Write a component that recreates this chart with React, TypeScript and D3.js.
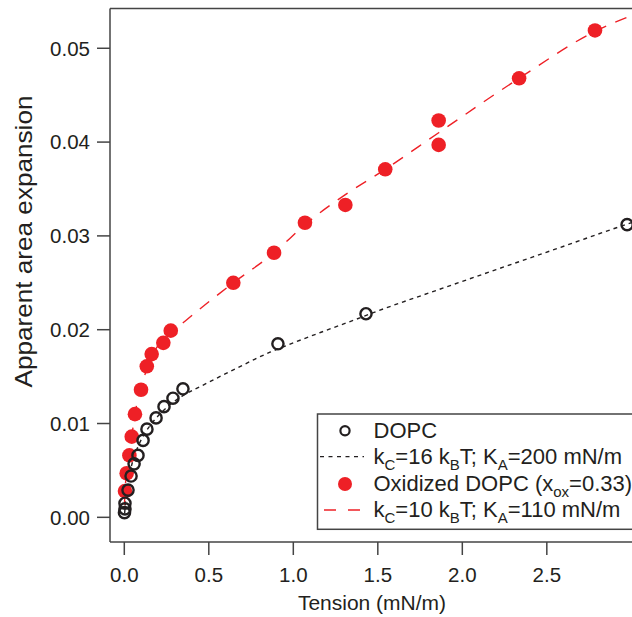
import React from "react";
import * as d3 from "d3";

// DOPC data (tension mN/m, apparent area expansion)
const dopcTension = [0.001, 0.004, 0.004, 0.022, 0.040, 0.058, 0.081, 0.111, 0.134, 0.188, 0.235, 0.288, 0.347, 0.909, 1.430, 2.975];
const dopcAlpha = [0.0005, 0.0009, 0.0015, 0.0029, 0.0044, 0.0057, 0.0066, 0.0082, 0.0094, 0.0106, 0.0118, 0.0127, 0.0137, 0.0185, 0.0217, 0.0312];

// Oxidized DOPC data
const oxTension = [0.004, 0.014, 0.030, 0.044, 0.063, 0.099, 0.133, 0.162, 0.231, 0.275, 0.645, 0.886, 1.069, 1.308, 1.544, 1.860, 1.860, 2.336, 2.785];
const oxAlpha = [0.0028, 0.0047, 0.0066, 0.0086, 0.0110, 0.0136, 0.0161, 0.0174, 0.0186, 0.0199, 0.0250, 0.0282, 0.0314, 0.0333, 0.0371, 0.0397, 0.0423, 0.0468, 0.0519];

// Fit curves
const fitDopcT = [0.002, 0.006, 0.015, 0.030, 0.050, 0.080, 0.120, 0.180, 0.250, 0.340, 0.467, 0.665, 0.862, 1.000, 1.160, 1.355, 1.500, 1.800, 2.200, 2.600, 2.950, 3.050];
const fitDopcA = [0.0004, 0.0014, 0.0030, 0.0045, 0.0060, 0.0075, 0.0089, 0.0104, 0.0117, 0.0129, 0.0141, 0.0159, 0.0176, 0.0186, 0.0197, 0.0210, 0.0220, 0.0239, 0.0264, 0.0289, 0.0311, 0.0317];

const fitOxT = [0.001, 0.004, 0.014, 0.028, 0.044, 0.063, 0.099, 0.164, 0.275, 0.359, 0.645, 0.886, 1.069, 1.308, 1.544, 1.860, 2.336, 2.785, 3.004, 3.05];
const fitOxA = [0.0013, 0.0028, 0.0046, 0.0065, 0.0086, 0.0110, 0.0138, 0.0172, 0.0196, 0.0209, 0.0250, 0.0282, 0.0312, 0.0344, 0.0371, 0.0410, 0.0468, 0.0518, 0.0535, 0.0538];

const xTicks = [0, 0.5, 1.0, 1.5, 2.0, 2.5];
const yTicks = [0, 0.01, 0.02, 0.03, 0.04, 0.05];

const RED = "#ee2026";
const INK = "#231f20";
const AXIS = "#444";
const FONT = "'Liberation Sans', Arial, Helvetica, sans-serif";

const W = 632;
const H = 617;
const left = 110;
const right = 632;
const top = 8.5;
const bottom = 542;

// A legend label: parts alternate normal / subscript
function RichText({ x, y, parts, fs, sfs }: { x: number; y: number; parts: [string, boolean][]; fs: number; sfs: number }) {
  let shifted = false;
  return (
    <text x={x} y={y} fontSize={fs} fill={INK}>
      {parts.map(([s, isSub], i) => {
        let dy = 0;
        if (isSub && !shifted) {
          dy = 6;
          shifted = true;
        } else if (!isSub && shifted) {
          dy = -6;
          shifted = false;
        }
        return (
          <tspan key={i} dy={dy} fontSize={isSub ? sfs : fs}>
            {s}
          </tspan>
        );
      })}
    </text>
  );
}

export default function App() {
  const x = d3.scaleLinear().domain([-0.0846, 3.004]).range([left, right]);
  const y = d3.scaleLinear().domain([-0.00263, 0.05424]).range([bottom, top]);

  const line = d3
    .line<[number, number]>()
    .x((d) => x(d[0]))
    .y((d) => y(d[1]))
    .curve(d3.curveMonotoneX);

  const dopcFit = line(fitDopcT.map((t, i) => [t, fitDopcA[i]]));
  const oxFit = line(fitOxT.map((t, i) => [t, fitOxA[i]]));

  const fx = d3.format(".1f");
  const fy = d3.format(".2f");

  const legX = 317.5;
  const legY = 414;
  const rows = [430.7, 456.7, 484, 510];
  const textX = 373.5;
  const symX = 345;
  const fs = 22;
  const sfs = 15;

  return (
    <svg
      width={W}
      height={H}
      style={{ position: "absolute", left: 0, top: 0, background: "#fff" }}
      fontFamily={FONT}
    >
      <defs>
        <clipPath id="plotclip">
          <rect x={left} y={top} width={right - left + 20} height={bottom - top} />
        </clipPath>
      </defs>

      {/* frame */}
      <line x1={left} x2={W + 2} y1={top} y2={top} stroke={AXIS} strokeWidth={1.5} />
      <line x1={left} x2={W + 2} y1={bottom} y2={bottom} stroke={AXIS} strokeWidth={1.5} />
      <line x1={left} x2={left} y1={top} y2={bottom} stroke={AXIS} strokeWidth={1.5} />

      {/* y ticks */}
      {yTicks.map((t) => (
        <g key={"y" + t}>
          <line x1={left - 13} x2={left} y1={y(t)} y2={y(t)} stroke={AXIS} strokeWidth={1.5} />
          <text x={90} y={y(t)} dy="0.36em" textAnchor="end" fontSize={20.5} fill={INK}>
            {fy(t)}
          </text>
        </g>
      ))}

      {/* x ticks */}
      {xTicks.map((t) => (
        <g key={"x" + t}>
          <line x1={x(t)} x2={x(t)} y1={bottom} y2={bottom + 13} stroke={AXIS} strokeWidth={1.5} />
          <text x={x(t)} y={582} textAnchor="middle" fontSize={20.5} fill={INK}>
            {fx(t)}
          </text>
        </g>
      ))}

      <text x={372} y={610} textAnchor="middle" fontSize={21} fill={INK}>
        Tension (mN/m)
      </text>
      <text
        transform={`translate(32,${241.5}) rotate(-90)`}
        textAnchor="middle"
        fontSize={24}
        textLength={292}
        lengthAdjust="spacingAndGlyphs"
        fill={INK}
      >
        Apparent area expansion
      </text>

      <g clipPath="url(#plotclip)">
        <path d={dopcFit || ""} fill="none" stroke={INK} strokeWidth={1.4} strokeDasharray="4,4" />
        <path d={oxFit || ""} fill="none" stroke={RED} strokeWidth={1.4} strokeDasharray="12,10" />

        {oxTension.map((t, i) => (
          <circle key={"o" + i} cx={x(t)} cy={y(oxAlpha[i])} r={7.3} fill={RED} />
        ))}
        {dopcTension.map((t, i) => (
          <circle
            key={"d" + i}
            cx={x(t)}
            cy={y(dopcAlpha[i])}
            r={5.6}
            fill="none"
            stroke={INK}
            strokeWidth={2.4}
          />
        ))}
      </g>

      {/* legend */}
      <rect x={legX} y={legY} width={W + 10 - legX} height={529.3 - legY} fill="#fff" stroke={AXIS} strokeWidth={1.5} />
      <circle cx={symX} cy={rows[0]} r={4.6} fill="none" stroke={INK} strokeWidth={2.2} />
      <line x1={320} x2={364} y1={rows[1]} y2={rows[1]} stroke={INK} strokeWidth={1.3} strokeDasharray="4,4.5" />
      <circle cx={symX} cy={rows[2]} r={7} fill={RED} />
      <line x1={324} x2={362} y1={rows[3]} y2={rows[3]} stroke={RED} strokeWidth={1.3} strokeDasharray="12,12" />

      <RichText x={textX} y={438.3} fs={fs} sfs={sfs} parts={[["DOPC", false]]} />
      <RichText
        x={textX}
        y={463.8}
        fs={fs}
        sfs={sfs}
        parts={[["k", false], ["C", true], ["=16 k", false], ["B", true], ["T; K", false], ["A", true], ["=200 mN/m", false]]}
      />
      <RichText
        x={textX}
        y={490.8}
        fs={fs}
        sfs={sfs}
        parts={[["Oxidized DOPC (x", false], ["ox", true], ["=0.33)", false]]}
      />
      <RichText
        x={textX}
        y={516.5}
        fs={fs}
        sfs={sfs}
        parts={[["k", false], ["C", true], ["=10 k", false], ["B", true], ["T; K", false], ["A", true], ["=110 mN/m", false]]}
      />
    </svg>
  );
}
